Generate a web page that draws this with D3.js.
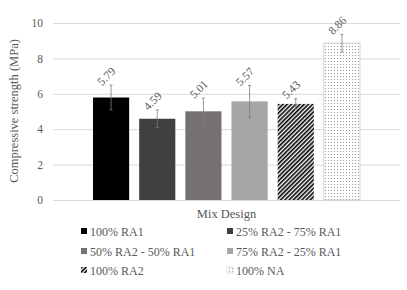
<!DOCTYPE html>
<html><head><meta charset="utf-8">
<script src="https://cdn.jsdelivr.net/npm/d3@7"></script>
<style>body{margin:0;background:#fff}svg{display:block}</style>
</head><body>
<script>
const series = ["100% RA1","25% RA2 - 75% RA1","50% RA2 - 50% RA1","75% RA2 - 25% RA1","100% RA2","100% NA"];
const values = [5.79,4.59,5.01,5.57,5.43,8.86];
const errors = [0.7,0.5,0.75,0.9,0.3,0.5];
const yTicks = [0,2,4,6,8,10];
const category = "Mix Design";

const W=407,H=290;
const FONT="Liberation Serif, DejaVu Serif, serif";
const svg=d3.select("body").append("svg").attr("width",W).attr("height",H)
  .attr("font-family",FONT);
const defs=svg.append("defs");
const stripe=defs.append("pattern").attr("id","stripe").attr("patternUnits","userSpaceOnUse")
  .attr("width",3).attr("height",3).attr("patternTransform","rotate(45)");
stripe.append("rect").attr("width",3).attr("height",3).attr("fill","#fff");
stripe.append("rect").attr("width",1.6).attr("height",3).attr("fill","#000");
const dots=defs.append("pattern").attr("id","dots").attr("patternUnits","userSpaceOnUse")
  .attr("width",3).attr("height",3);
dots.append("rect").attr("width",3).attr("height",3).attr("fill","#fff");
dots.append("rect").attr("x",1).attr("y",1).attr("width",1).attr("height",1).attr("fill","#9a9a9a");
const fills=["#000000","#404040","#767171","#a6a6a6","url(#stripe)","url(#dots)"];
const strokes=["none","none","none","none","none","#c8c8c8"];

const x0=53,x1=400;
const y=d3.scaleLinear().domain([0,10]).range([200,23]);
const xc=d3.scaleBand().domain([category]).range([x0,x1]).paddingInner(0).paddingOuter(0);
const groupW=267;
const xs=d3.scaleBand().domain(series)
  .range([xc(category)+xc.bandwidth()/2-groupW/2, xc(category)+xc.bandwidth()/2+groupW/2])
  .paddingInner(0.217);

const txt="#595959";

// grid
const yAxis=d3.axisLeft(y).tickValues(yTicks).tickSize(-(x1-x0)).tickFormat(d3.format("d"));
const ga=svg.append("g").attr("transform",`translate(${x0},0)`).call(yAxis);
ga.attr("font-family",FONT).attr("font-size",11.5);
ga.select(".domain").remove();
ga.selectAll(".tick line").attr("stroke","#d9d9d9").attr("stroke-width",1);
ga.selectAll(".tick text").attr("x",-10).attr("fill",txt);

// bars
svg.selectAll("rect.bar").data(series).enter().append("rect").attr("class","bar")
  .attr("x",d=>xs(d)).attr("width",xs.bandwidth())
  .attr("y",(d,i)=>y(values[i])).attr("height",(d,i)=>y(0)-y(values[i]))
  .attr("fill",(d,i)=>fills[i]).attr("stroke",(d,i)=>strokes[i]).attr("stroke-width",0.8);

// error bars and labels
const eb=svg.append("g");
series.forEach((s,i)=>{
  const cx=xs(s)+xs.bandwidth()/2;
  const top=y(values[i]+errors[i]), bot=y(values[i]-errors[i]);
  eb.append("line").attr("x1",cx).attr("x2",cx).attr("y1",top).attr("y2",bot).attr("stroke","#7f7f7f").attr("stroke-width",0.8);
  eb.append("line").attr("x1",cx-1.5).attr("x2",cx+1.5).attr("y1",top).attr("y2",top).attr("stroke","#7f7f7f").attr("stroke-width",0.8);
  eb.append("line").attr("x1",cx-1.5).attr("x2",cx+1.5).attr("y1",bot).attr("y2",bot).attr("stroke","#7f7f7f").attr("stroke-width",0.8);
  const lx=cx-9, ly=top+1;
  svg.append("text").attr("x",lx).attr("y",ly)
    .attr("transform",`rotate(-45,${lx},${ly})`)
    .attr("fill",txt).attr("font-size",11.5)
    .text(d3.format(".2f")(values[i]));
});

// axis titles
svg.append("text").attr("transform","translate(18,111) rotate(-90)").attr("text-anchor","middle")
  .attr("fill",txt).attr("font-size",12.5).text("Compressive strength (MPa)");
svg.append("text").attr("x",(x0+x1)/2).attr("y",218).attr("text-anchor","middle")
  .attr("fill",txt).attr("font-size",12.5).text(category);

// legend
const legX=[81,227], legY=[232,252,271];
series.forEach((s,i)=>{
  const lx=legX[i%2], ly=legY[Math.floor(i/2)];
  svg.append("rect").attr("x",lx).attr("y",ly-4).attr("width",6).attr("height",6)
    .attr("fill",fills[i]).attr("stroke",strokes[i]).attr("stroke-width",0.6);
  svg.append("text").attr("x",lx+9).attr("y",ly+3.5).attr("fill",txt)
    .attr("font-size",12).text(s);
});
</script>
</body></html>
